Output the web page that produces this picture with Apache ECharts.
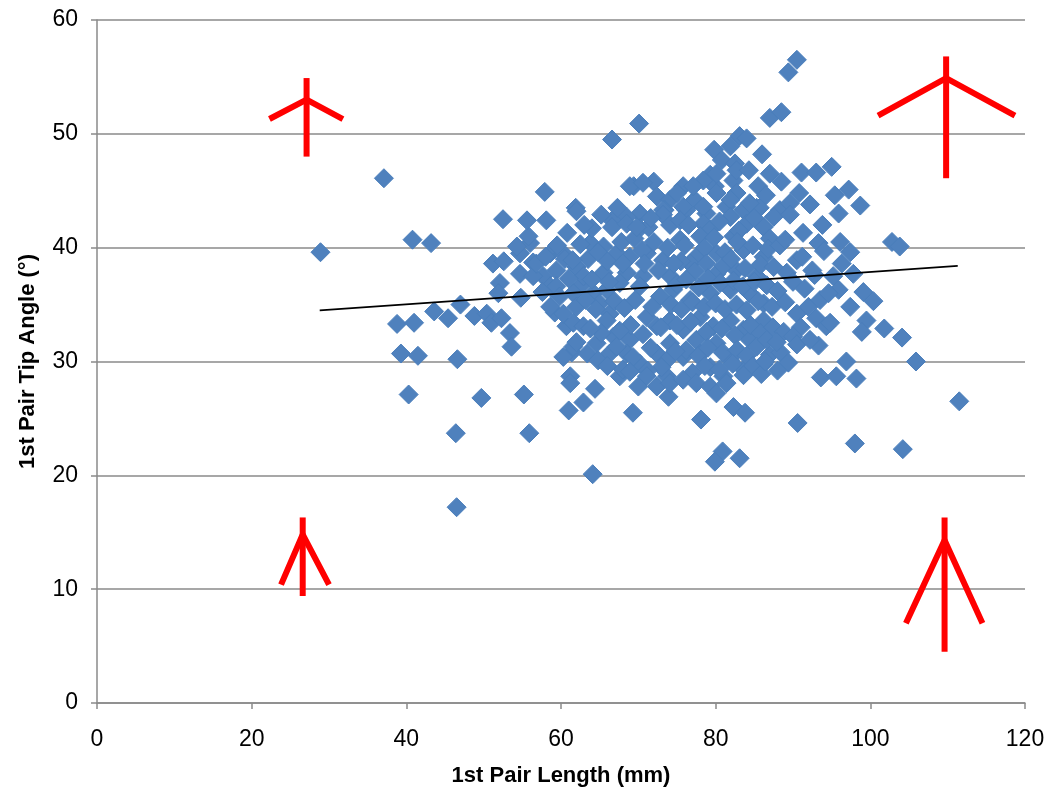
<!DOCTYPE html>
<html><head><meta charset="utf-8">
<script src="https://cdn.jsdelivr.net/npm/echarts@6/dist/echarts.min.js"></script>
<style>html,body{margin:0;padding:0;background:#fff}#c{width:1057px;height:793px}</style>
</head><body><div id="c"></div>
<script>
// x = 1st pair length (mm), y = 1st pair tip angle (deg)
const outlierPoints = [
[28.9,39.6],[37.1,46.1],[38.8,33.3],[39.3,30.7],[40.3,27.1],[40.8,40.7],[41.0,33.4],[41.5,30.5],[43.2,40.4],[43.6,34.4],[45.4,33.8],[46.6,30.2],[47.0,35.0],[46.4,23.7],[46.5,17.2],[48.8,34.0],[49.7,26.8],[50.4,34.2],[51.0,33.4],[52.3,33.8],[53.4,32.5],[53.6,31.3],[52.1,36.9],[51.9,36.0],[54.8,35.6],[51.2,38.6],[52.6,38.8],[54.7,37.7],[54.7,39.5],[56.0,40.4],[56.4,38.7],[55.8,41.0],[54.3,40.1],[52.5,42.5],[55.6,42.4],[55.2,27.1],[55.9,23.7],
[57.7,37.5],[56.4,37.5],[58.6,36.6],[62.5,36.6],[60.7,33.1],[61.4,30.8],[59.2,34.3]
];
const upperPoints = [
[66.6,49.5],[70.1,50.9],[57.9,44.9],[61.9,43.5],[87.0,51.4],[83.1,49.8],[84.0,49.6],[86.0,48.2],[79.8,48.6],[81.9,48.9],[80.8,47.7],[82.5,47.4],[69.4,45.4],[72.0,45.8],[75.8,45.4],[79.3,46.4],[72.4,44.5],[74.1,44.2],[77.3,44.2],[79.9,45.4],[82.3,45.9],[82.7,44.8],[85.3,43.5],[83.6,43.3],[76.2,43.3],[78.8,43.0],[81.4,43.6],[73.4,43.3],[90.5,56.5],[89.4,55.4],[88.5,51.9],[91.1,46.6],[93.0,46.6],[95.0,47.1],[95.4,44.6],[97.2,45.1],[98.7,43.7],[95.9,43.0],[88.3,43.3],[89.6,43.9],[85.7,43.5],
[82.7,46.8],[80.1,46.5],[78.4,45.9],[77.1,45.4],[75.0,44.8],[68.9,45.4],[70.6,45.7],[80.1,44.8],[81.9,44.2],[84.4,43.9],[78.4,43.6],[75.8,43.6],[73.2,43.3],[70.2,43.0],[68.5,42.7],[66.6,42.4],
[92.2,43.8],[90.8,44.8],[88.5,45.8],[87.0,46.5],[85.5,45.4],[84.3,46.8],[86.5,44.6],[93.8,42.0]
];
const corePoints = [
[58.1,42.4],[62.0,43.2],[66.6,41.8],[68.5,42.1],[70.2,41.7],[71.3,41.8],[73.2,42.9],[74.1,42.0],[75.4,42.4],[78.4,42.1],[79.3,41.6],[81.9,42.7],[84.0,42.1],[86.2,41.8],[75.4,40.7],[82.3,41.0],
[58.6,39.5],[60.3,39.5],[63.8,40.4],[65.5,40.1],[67.2,39.5],[68.9,39.2],[71.1,39.5],[73.2,38.9],[77.5,39.2],[80.1,39.5],[83.6,39.8],[86.2,39.2],[56.8,38.6],[59.4,38.0],[62.0,38.3],[62.9,37.5],[65.5,37.8],[68.5,37.8],[70.6,37.5],[74.1,37.5],[76.7,38.6],[80.1,37.7],[82.7,38.0],[85.3,37.5],
[59.4,36.6],[61.6,36.0],[64.2,36.0],[65.9,36.3],[67.6,36.9],[70.2,36.6],[72.8,35.7],[74.5,36.3],[76.7,35.4],[79.3,36.0],[81.9,36.3],[84.4,36.0],[86.2,35.1],[58.6,34.8],[60.3,34.2],[65.0,35.1],[66.3,34.2],
[61.6,33.4],[62.9,33.1],[65.9,33.6],[66.8,32.2],[71.1,33.9],[72.4,33.1],[74.1,33.6],[75.8,32.8],[78.0,33.9],[79.7,33.1],[81.9,33.6],[83.6,32.8],[86.2,33.6],[64.6,31.6],[68.9,31.9],[74.1,31.6],[77.5,31.9],[80.1,31.6],[84.4,31.9],
[60.3,30.4],[61.6,31.3],[66.3,30.7],[68.5,30.7],[70.2,29.8],[72.4,30.7],[73.7,30.1],[75.8,30.4],[78.0,30.7],[79.3,29.5],[81.9,30.1],[83.6,29.3],[86.2,29.8],[61.2,28.7],[67.6,28.7],[73.7,28.7],[81.0,28.7],
[76.5,42.0],[78.0,41.0],[80.5,42.3],[83.0,41.5],[85.0,42.6],[87.0,40.8],
[76.0,40.2],[78.6,40.0],[79.8,40.9],[81.2,39.6],[82.8,40.5],[84.8,40.2],[86.8,39.9],[88.3,40.2],
[75.5,38.8],[77.3,37.9],[78.8,38.6],[81.0,38.4],[82.0,39.0],[83.8,38.2],[85.8,38.5],[87.5,38.3],[89.2,37.8],[90.5,38.9],
[75.0,36.8],[76.2,37.2],[77.8,36.5],[79.0,37.3],[80.6,36.9],[82.3,37.1],[83.5,36.6],[85.0,37.0],[86.6,36.7],[88.0,36.2],[90.0,37.0],[91.5,36.4],[92.8,37.6],
[74.2,35.0],[75.6,34.6],[77.0,35.2],[78.5,34.8],[80.0,35.1],[81.2,34.6],[82.7,35.0],[84.0,34.5],[85.5,35.3],[87.3,34.8],[89.0,35.2],[90.5,34.2],[92.0,34.8],[93.0,33.8],
[75.0,33.2],[76.8,33.5],[78.8,32.6],[80.8,32.9],[82.5,32.3],[84.5,33.2],[85.8,32.5],[87.4,33.0],[88.8,32.6],[91.0,33.0],
[76.2,31.0],[77.8,30.5],[79.0,31.2],[80.9,30.8],[82.8,31.0],[84.0,30.5],[85.3,31.3],[87.0,30.6],[88.4,30.8],[89.4,29.9],
[77.0,29.0],[78.6,29.6],[80.5,29.3],[82.2,29.8],[84.8,29.6],[85.9,28.9],[88.0,29.2],
[62.5,40.3],[63.5,39.0],[64.8,39.6],[66.0,38.8],[67.8,40.5],[69.5,40.8],[70.5,39.8],[72.0,40.5],[73.8,40.0],[74.6,38.6],[72.6,38.0],[70.8,38.6],[68.0,38.6],[66.2,37.0],[64.0,37.2],[62.0,34.8],[63.2,35.4],[64.5,34.6],[66.9,35.3],[68.2,34.7],[69.6,35.4],[71.8,34.8],[72.9,33.0],[70.6,32.4],[69.0,33.2],[67.6,32.7],[65.2,32.5],[63.8,32.9],[62.0,31.7],[63.4,30.7],[64.8,30.1],[67.2,31.3],[69.3,30.4],[71.6,31.2],[73.0,29.5],[74.8,30.9],[71.2,29.2],[66.0,29.6],[68.0,29.3],[69.8,41.8],[71.6,42.6],[67.3,43.5],[65.2,42.9],[64.0,41.7],[63.0,42.0],[60.8,41.3],[59.5,40.2],[58.0,39.2],[57.6,36.1],[59.8,35.7],[61.0,37.3],[60.5,39.0],[61.5,38.9]
];
const lowerPoints = [
[61.2,28.1],[64.4,27.6],[62.9,26.4],[61.0,25.7],[69.3,25.5],[78.1,24.9],[80.9,22.1],[79.9,21.2],[83.1,21.5],[64.1,20.1],[82.3,26.0],[83.8,25.5],[83.6,28.8],[70.0,27.8],[73.9,26.9],[68.9,29.1],[72.4,27.8],[74.1,28.1],[75.8,28.4],[77.5,28.1],[79.3,27.8],[80.1,27.2],[81.4,28.1],[71.1,28.7],
[93.6,28.6],[95.6,28.7],[98.2,28.5],[111.5,26.5],[90.6,24.6],[98.0,22.8],[104.2,22.3]
];
const rightPoints = [
[102.8,40.5],[103.8,40.1],[91.3,41.3],[87.5,42.7],[89.6,42.9],[89.0,40.7],[93.3,40.4],[96.1,40.5],[97.4,39.6],[97.8,37.7],[99.1,36.1],[100.4,35.3],[97.4,34.8],[99.5,33.6],[98.9,32.6],[101.8,32.9],[104.1,32.1],[105.9,30.0],[96.9,30.0],[93.3,31.4],[94.3,33.1],[95.9,36.3],[93.5,35.4],[86.4,30.0],[86.6,31.9],[87.9,31.7],[90.0,32.2],[90.5,31.5],[92.2,31.9],[94.8,33.4],
[91.2,39.2],[92.5,38.0],[94.0,39.7],[95.2,37.5],[96.3,38.6],[94.6,36.0]
];
// linear trend line end points
const trendX = [28.8, 111.3];
const trendY = [34.5, 38.4];
// red "arrow" annotations, in data units: [left arm end, apex, right arm end] and stem [top, bottom]
const arrowArms = [
  [[22.3,51.3],[27.1,53.0],[31.8,51.3]],
  [[101.0,51.6],[109.8,54.9],[118.7,51.6]],
  [[23.8,10.4],[26.6,14.8],[30.0,10.4]],
  [[104.6,7.0],[109.6,14.3],[114.5,7.0]]
];
const arrowStems = [
  [[27.1,54.9],[27.1,48.0]],
  [[109.8,56.8],[109.8,46.1]],
  [[26.6,16.3],[26.6,9.4]],
  [[109.6,16.3],[109.6,4.5]]
];
const xTicks = {min:0, max:120, interval:20};
const yTicks = {min:0, max:60, interval:10};

const allPoints = outlierPoints.concat(upperPoints, corePoints, lowerPoints, rightPoints);
const chart = echarts.init(document.getElementById('c'), null, {renderer:'canvas'});
const grey = '#8a8a8a';
const font = 'Liberation Sans, Arial, sans-serif';
chart.setOption({
  animation:false,
  grid:{left:97, right:32, top:20, bottom:90},
  xAxis:{type:'value', min:xTicks.min, max:xTicks.max, interval:xTicks.interval,
    name:'1st Pair Length (mm)', nameLocation:'middle', nameGap:62,
    nameTextStyle:{fontFamily:font, fontSize:22, fontWeight:'bold', color:'#000'},
    axisLine:{onZero:false, lineStyle:{color:grey, width:1.5}},
    axisTick:{show:true, length:6, lineStyle:{color:grey, width:1.5}},
    axisLabel:{fontFamily:font, fontSize:23, color:'#000', margin:25},
    splitLine:{show:false}},
  yAxis:{type:'value', min:yTicks.min, max:yTicks.max, interval:yTicks.interval,
    name:'1st Pair Tip Angle (°)', nameLocation:'middle', nameGap:58,
    nameTextStyle:{fontFamily:font, fontSize:22, fontWeight:'bold', color:'#000'},
    axisLine:{show:true, onZero:false, lineStyle:{color:grey, width:1.5}},
    axisTick:{show:true, length:6, lineStyle:{color:grey, width:1.5}},
    axisLabel:{fontFamily:font, fontSize:23, color:'#000', margin:19},
    splitLine:{show:true, lineStyle:{color:grey, width:1.5}}},
  series:[
    {type:'scatter', data:allPoints, symbol:'diamond', symbolSize:19,
      itemStyle:{color:'#4F81BD', borderColor:'#4A7EBB', borderWidth:1, opacity:1}, z:2},
    {type:'line', data:trendX.map((x,i)=>[x,trendY[i]]), symbol:'none',
      lineStyle:{color:'#000', width:1.8}, z:3},
    {type:'lines', coordinateSystem:'cartesian2d', polyline:true,
      data:arrowArms.concat(arrowStems).map(c=>({coords:c})),
      lineStyle:{color:'#FF0000', width:6, opacity:1}, z:4}
  ]
});
</script></body></html>
